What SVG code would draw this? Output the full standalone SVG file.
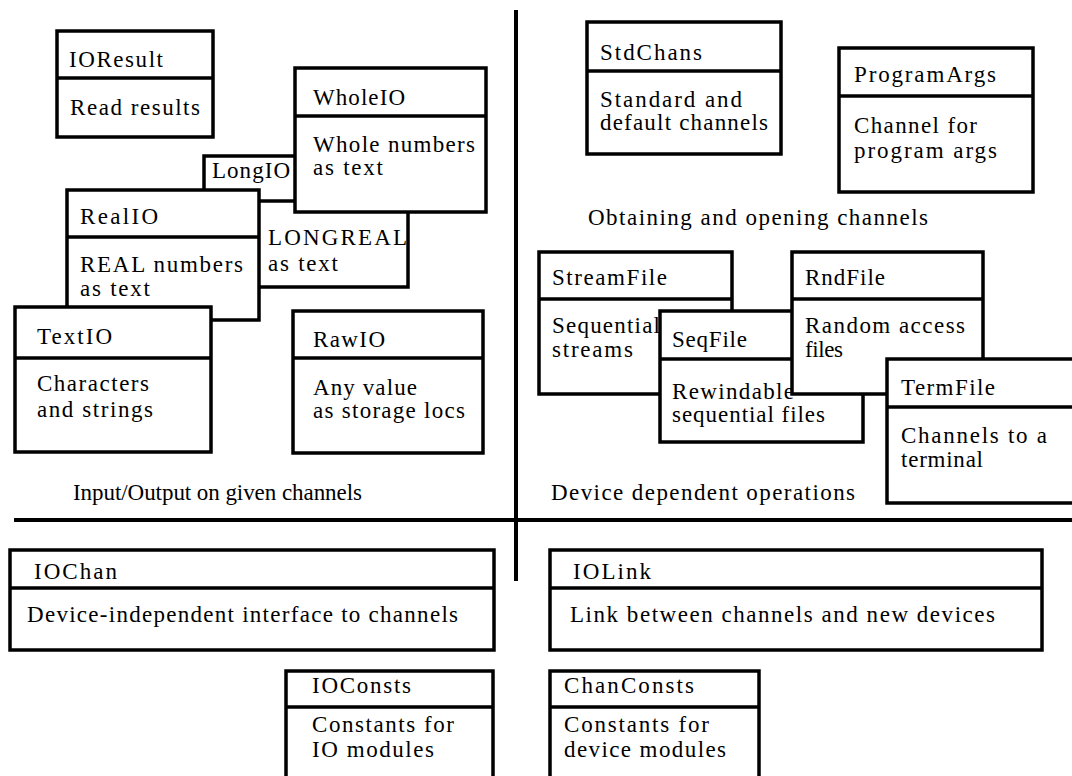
<svg xmlns="http://www.w3.org/2000/svg" width="1072" height="776" viewBox="0 0 1072 776">
<style>
.b{fill:#fff;stroke:#000;stroke-width:3.5;stroke-linejoin:miter}
.d{stroke:#000;stroke-width:3.5}
.s{stroke:#000;stroke-width:4}
text{font-family:"Liberation Serif","Times New Roman",serif;font-size:23px;fill:#000}
</style>
<rect width="1072" height="776" fill="#fff"/>
<g id="separators">
<line class="s" x1="516" y1="10" x2="516" y2="581"/>
<line class="s" x1="14" y1="520" x2="1072" y2="520"/>
</g>
<g id="labels">
<text x="73" y="500" textLength="289">Input/Output on given channels</text>
<text x="551" y="500" textLength="304">Device dependent operations</text>
<text x="588" y="225" textLength="340">Obtaining and opening channels</text>
</g>
<g id="IOResult">
<rect class="b" x="57" y="31" width="156" height="106"/>
<line class="d" x1="57" y1="78" x2="213" y2="78"/>
<text x="69" y="67" textLength="94">IOResult</text>
<text x="70" y="115" textLength="130">Read results</text>
</g>
<g id="LongIO">
<rect class="b" x="204" y="156" width="204" height="131"/>
<line class="d" x1="204" y1="201" x2="408" y2="201"/>
<text x="212" y="178" textLength="78">LongIO</text>
<text x="268" y="245" textLength="139">LONGREAL</text>
<text x="268" y="271" textLength="70">as text</text>
</g>
<g id="RealIO">
<rect class="b" x="67" y="190" width="192" height="130"/>
<line class="d" x1="67" y1="237" x2="259" y2="237"/>
<text x="80" y="224" textLength="78">RealIO</text>
<text x="80" y="272" textLength="163">REAL numbers</text>
<text x="80" y="296" textLength="70">as text</text>
</g>
<g id="WholeIO">
<rect class="b" x="295" y="68" width="191" height="144"/>
<line class="d" x1="295" y1="116" x2="486" y2="116"/>
<text x="313" y="105" textLength="92">WholeIO</text>
<text x="313" y="152" textLength="162">Whole numbers</text>
<text x="313" y="175" textLength="70">as text</text>
</g>
<g id="TextIO">
<rect class="b" x="15" y="307" width="196" height="145"/>
<line class="d" x1="15" y1="358" x2="211" y2="358"/>
<text x="37" y="344" textLength="75">TextIO</text>
<text x="37" y="391" textLength="112">Characters</text>
<text x="37" y="417" textLength="116">and strings</text>
</g>
<g id="RawIO">
<rect class="b" x="293" y="311" width="190" height="142"/>
<line class="d" x1="293" y1="358" x2="483" y2="358"/>
<text x="313" y="347" textLength="72">RawIO</text>
<text x="313" y="395" textLength="104">Any value</text>
<text x="313" y="418" textLength="152">as storage locs</text>
</g>
<g id="StdChans">
<rect class="b" x="587" y="22" width="194" height="132"/>
<line class="d" x1="587" y1="71" x2="781" y2="71"/>
<text x="600" y="60" textLength="102">StdChans</text>
<text x="600" y="107" textLength="142">Standard and</text>
<text x="600" y="130" textLength="168">default channels</text>
</g>
<g id="ProgramArgs">
<rect class="b" x="839" y="48" width="194" height="144"/>
<line class="d" x1="839" y1="96" x2="1033" y2="96"/>
<text x="854" y="82" textLength="142">ProgramArgs</text>
<text x="854" y="133" textLength="123">Channel for</text>
<text x="854" y="158" textLength="143">program args</text>
</g>
<g id="StreamFile">
<rect class="b" x="539" y="252" width="193" height="142"/>
<line class="d" x1="539" y1="299" x2="732" y2="299"/>
<text x="552" y="285" textLength="115">StreamFile</text>
<text x="552" y="333" textLength="108">Sequential</text>
<text x="552" y="357" textLength="81">streams</text>
</g>
<g id="SeqFile">
<rect class="b" x="660" y="311" width="203" height="131"/>
<line class="d" x1="660" y1="359" x2="863" y2="359"/>
<text x="672" y="347" textLength="75">SeqFile</text>
<text x="672" y="399" textLength="122">Rewindable</text>
<text x="672" y="422" textLength="153">sequential files</text>
</g>
<g id="RndFile">
<rect class="b" x="792" y="252" width="191" height="142"/>
<line class="d" x1="792" y1="299" x2="983" y2="299"/>
<text x="805" y="285" textLength="80">RndFile</text>
<text x="805" y="333" textLength="160">Random access</text>
<text x="805" y="357" textLength="38">files</text>
</g>
<g id="TermFile">
<rect class="b" x="887" y="359" width="200" height="144"/>
<line class="d" x1="887" y1="407" x2="1087" y2="407"/>
<text x="901" y="395" textLength="94">TermFile</text>
<text x="901" y="443" textLength="146">Channels to a</text>
<text x="901" y="467" textLength="82">terminal</text>
</g>
<g id="IOChan">
<rect class="b" x="10" y="550" width="484" height="100"/>
<line class="d" x1="10" y1="588" x2="494" y2="588"/>
<text x="34" y="579" textLength="83">IOChan</text>
<text x="27" y="622" textLength="431">Device-independent interface to channels</text>
</g>
<g id="IOLink">
<rect class="b" x="550" y="550" width="492" height="100"/>
<line class="d" x1="550" y1="588" x2="1042" y2="588"/>
<text x="573" y="579" textLength="78">IOLink</text>
<text x="570" y="622" textLength="425">Link between channels and new devices</text>
</g>
<g id="IOConsts">
<rect class="b" x="286" y="671" width="207" height="120"/>
<line class="d" x1="286" y1="707" x2="493" y2="707"/>
<text x="312" y="693" textLength="99">IOConsts</text>
<text x="312" y="732" textLength="142">Constants for</text>
<text x="312" y="757" textLength="122">IO modules</text>
</g>
<g id="ChanConsts">
<rect class="b" x="550" y="671" width="209" height="120"/>
<line class="d" x1="550" y1="707" x2="759" y2="707"/>
<text x="564" y="693" textLength="130">ChanConsts</text>
<text x="564" y="732" textLength="145">Constants for</text>
<text x="564" y="757" textLength="162">device modules</text>
</g>
<g id="connectors"></g>
</svg>
